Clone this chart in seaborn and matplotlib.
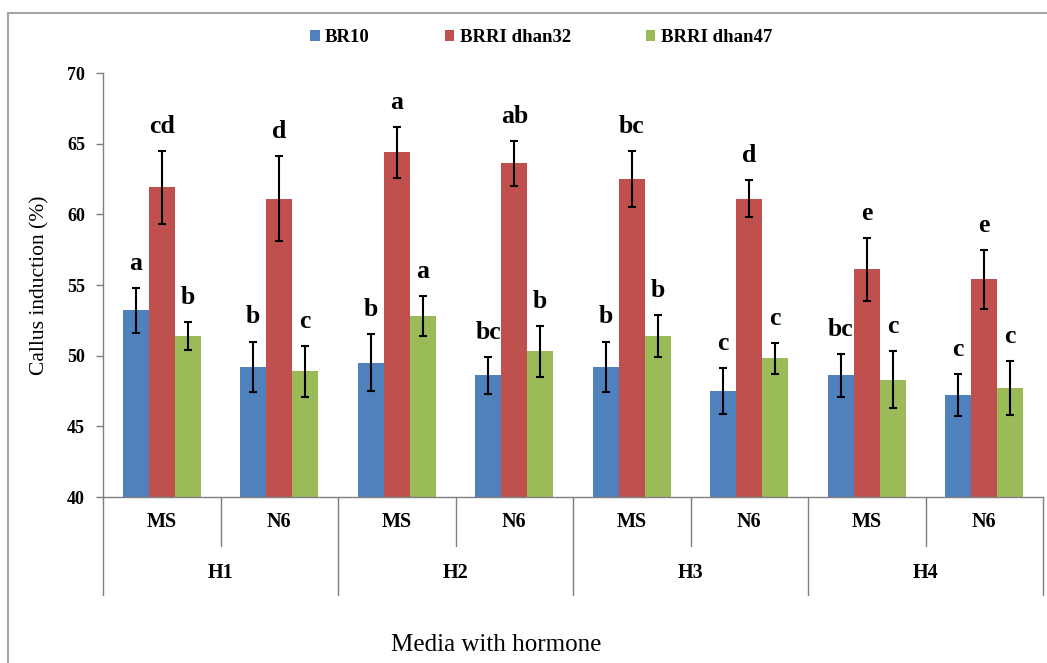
import numpy as np
import pandas as pd
import seaborn as sns
import matplotlib.pyplot as plt
import matplotlib.transforms as mtransforms
from matplotlib.patches import Rectangle

# data
hormones = ['H1', 'H2', 'H3', 'H4']
media = ['MS', 'N6']
varieties = ['BR10', 'BRRI dhan32', 'BRRI dhan47']

br10 = [53.2, 49.2, 49.5, 48.6, 49.2, 47.5, 48.6, 47.2]
br10_err = [1.6, 1.8, 2.0, 1.3, 1.8, 1.6, 1.5, 1.5]
br10_letters = ['a', 'b', 'b', 'bc', 'b', 'c', 'bc', 'c']

dhan32 = [61.9, 61.1, 64.4, 63.6, 62.5, 61.1, 56.1, 55.4]
dhan32_err = [2.6, 3.0, 1.8, 1.6, 2.0, 1.3, 2.2, 2.1]
dhan32_letters = ['cd', 'd', 'a', 'ab', 'bc', 'd', 'e', 'e']

dhan47 = [51.4, 48.9, 52.8, 50.3, 51.4, 49.8, 48.3, 47.7]
dhan47_err = [1.0, 1.8, 1.4, 1.8, 1.5, 1.1, 2.0, 1.9]
dhan47_letters = ['b', 'c', 'a', 'b', 'b', 'c', 'c', 'c']

colors = ['#4F81BD', '#C0504D', '#9BBB59']

# long table for seaborn
treatments = [h + ' ' + m for h in hormones for m in media]
rows = []
for var, vals in zip(varieties, [br10, dhan32, dhan47]):
    for t, v in zip(treatments, vals):
        rows.append({'treatment': t, 'variety': var, 'callus': v})
df = pd.DataFrame(rows)

sns.set_theme(style='white')
plt.rcParams['font.family'] = ['Liberation Serif', 'DejaVu Serif']
plt.rcParams['text.color'] = 'black'
plt.rcParams['axes.labelcolor'] = 'black'

fig = plt.figure(figsize=(10.47, 6.63), dpi=100)
ax = fig.add_axes([103 / 1047, 1 - 497 / 663, 940 / 1047, 424 / 663])

sns.barplot(data=df, x='treatment', y='callus', hue='variety', order=treatments,
            hue_order=varieties, palette=colors, saturation=1, width=0.664,
            errorbar=None, linewidth=0, ax=ax)

# error bars and significance letters
for cont, errs, letters in zip(ax.containers, [br10_err, dhan32_err, dhan47_err],
                               [br10_letters, dhan32_letters, dhan47_letters]):
    for bar, e, lab in zip(cont, errs, letters):
        xc = bar.get_x() + bar.get_width() / 2
        top = bar.get_height()
        ax.errorbar(xc, top, yerr=e, color='black', elinewidth=1.5, capsize=2.7,
                    capthick=1.5, fmt='none', zorder=5)
        ax.annotate(lab, (xc, top + e), xytext=(0, 13), textcoords='offset points',
                    ha='center', va='baseline', fontsize=18.5, fontweight='bold',
                    color='black')

ax.set_ylim(40, 70)
ax.set_xlim(-0.5, len(treatments) - 0.5)
ax.set_yticks(range(40, 71, 5))
ax.tick_params(axis='y', which='major', left=True, length=5, width=1, color='#7f7f7f',
               labelcolor='black', labelsize=13, pad=8)
for lbl in ax.get_yticklabels():
    lbl.set_fontweight('bold')

ax.set_xticks(range(len(treatments)))
ax.set_xticklabels(media * len(hormones), fontsize=14.5, fontweight='bold')
ax.tick_params(axis='x', length=0, pad=11, labelcolor='black')

sns.despine(ax=ax)
for s in ['left', 'bottom']:
    ax.spines[s].set_color('#7f7f7f')
    ax.spines[s].set_linewidth(1)

# hierarchical category separators
trans = mtransforms.blended_transform_factory(ax.transData, ax.transAxes)
for k in range(len(treatments) + 1):
    xb = k - 0.5
    ybot = -0.231 if k % 2 == 0 else -0.1156
    ax.plot([xb, xb], [0, ybot], transform=trans, color='#7f7f7f', lw=1, clip_on=False)
for i, h in enumerate(hormones):
    ax.text(2 * i + 0.5, -0.179, h, transform=trans, ha='center', va='center',
            fontsize=14.5, fontweight='bold', color='black')

ax.set_ylabel('Callus induction (%)', fontsize=15.5)
ax.yaxis.set_label_coords(-0.057, 0.5)
ax.set_xlabel('Media with hormone', fontsize=18)
ax.xaxis.set_label_coords(0.418, -0.322)

# legend at top
handles, labels = ax.get_legend_handles_labels()
ax.get_legend().remove()
fig.legend(handles, labels, loc='center', bbox_to_anchor=(0.517, 0.943), ncol=3,
           frameon=False, prop={'weight': 'bold', 'size': 13.5}, handlelength=0.5,
           handleheight=0.5, handletextpad=0.3, columnspacing=4.0)

# outer chart frame
fig.patches.append(Rectangle((8 / 1047, -0.2), 1.5, 0.2 + 1 - 13 / 663, transform=fig.transFigure,
                             fill=False, edgecolor='#A6A6A6', lw=1.5))

fig.savefig('out.png', dpi=100)
